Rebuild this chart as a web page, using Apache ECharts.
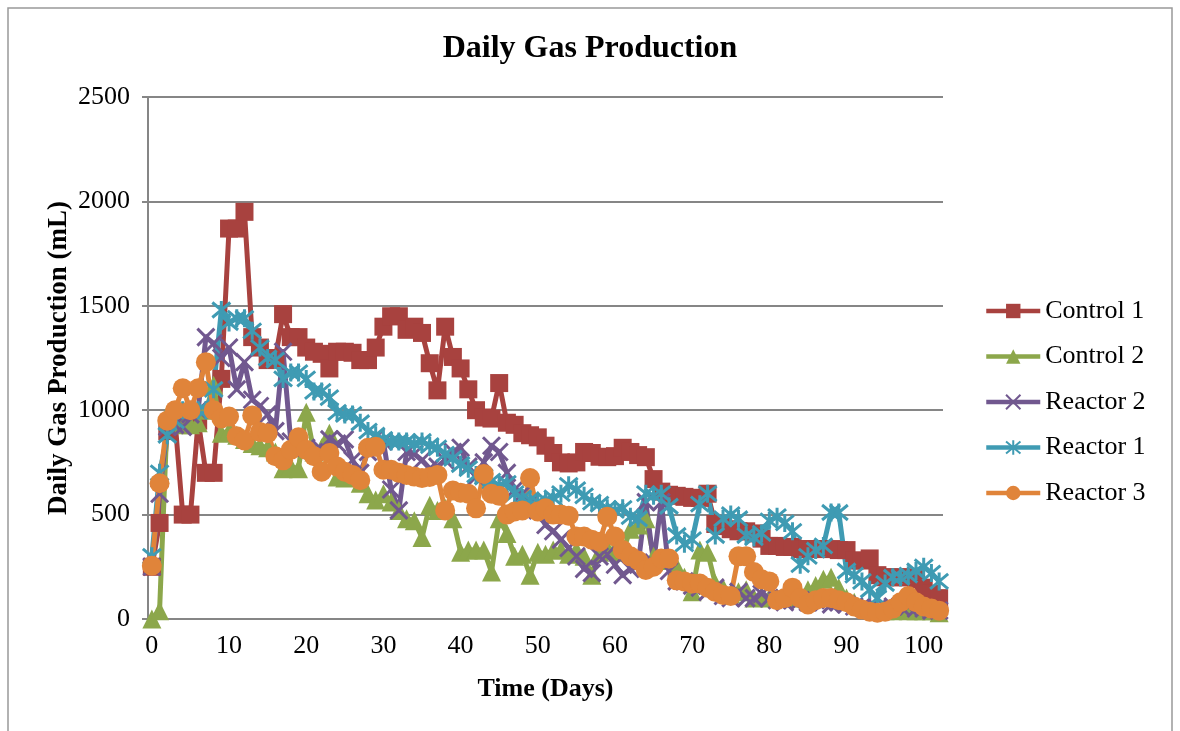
<!DOCTYPE html>
<html>
<head>
<meta charset="utf-8">
<script src="https://cdn.jsdelivr.net/npm/echarts/dist/echarts.min.js"></script>
<style>
html,body{margin:0;padding:0;background:#fff;}
#chart{width:1180px;height:731px;}
</style>
</head>
<body>
<div id="chart"></div>
<script>
const days = [0,1,2,3,4,5,6,7,8,9,10,11,12,13,14,15,16,17,18,19,20,21,22,23,24,25,26,27,28,29,30,31,32,33,34,35,36,37,38,39,40,41,42,43,44,45,46,47,48,49,50,51,52,53,54,55,56,57,58,59,60,61,62,63,64,65,66,67,68,69,70,71,72,73,74,75,76,77,78,79,80,81,82,83,84,85,86,87,88,89,90,91,92,93,94,95,96,97,98,99,100,101,102];

const control1 = [250,460,900,950,500,500,950,700,700,1150,
1870,1870,1950,1350,1300,1240,1250,1460,1350,1350,
1300,1280,1270,1200,1280,1280,1275,1240,1240,1300,
1400,1450,1450,1385,1400,1370,1225,1095,1400,1255,
1200,1100,1000,965,960,1130,940,930,890,880,
870,830,795,750,745,750,800,795,777,775,
780,820,800,785,775,670,610,595,590,585,
580,580,600,455,445,430,420,420,410,385,
350,350,345,345,335,335,335,335,335,330,
330,280,280,290,210,200,200,200,200,190,
150,120,100];

const control2 = [0,40,980,960,930,930,940,1000,1120,890,
900,880,860,840,830,820,800,720,730,720,
990,800,820,890,680,675,690,650,600,570,
600,560,520,480,470,390,545,520,530,480,
320,330,330,330,225,480,410,300,310,210,
320,310,330,330,310,330,300,210,320,340,
330,320,430,450,480,300,280,280,250,200,
130,330,320,170,150,120,130,140,100,110,
100,100,110,100,110,140,160,190,200,150,
100,80,60,50,40,40,40,50,40,40,
40,40,30];

const reactor2 = [250,600,920,930,920,980,1000,1350,1320,1250,
1300,1100,1230,1050,1020,980,900,1280,850,830,
820,800,810,860,840,860,760,700,800,870,
850,620,520,800,790,760,720,730,760,800,
820,730,680,750,830,800,700,620,600,560,
520,450,420,380,340,300,240,220,300,310,
260,210,240,260,560,270,560,230,180,180,
160,150,130,150,110,100,130,100,100,120,
100,90,80,90,90,80,90,80,70,80,
70,60,60,50,50,60,60,60,60,50,
50,40,40];

const reactor1 = [300,700,880,950,1000,1000,1000,1000,1100,1480,
1420,1440,1440,1380,1300,1250,1240,1150,1180,1180,
1150,1090,1090,1060,990,980,980,940,900,880,
860,850,850,850,840,850,830,820,790,770,
740,720,690,680,660,640,650,600,580,570,
560,570,580,600,640,620,590,560,550,530,
520,530,490,480,600,590,600,540,400,360,
380,550,600,400,480,500,480,400,390,410,
470,490,460,420,260,300,330,350,510,510,
230,210,180,140,100,170,200,200,210,230,
250,220,180];

const reactor3 = [255,650,950,1000,1105,1000,1105,1230,1000,960,
970,875,855,975,895,890,780,760,810,870,
810,780,705,795,730,705,690,665,820,825,
715,715,700,690,682,675,680,690,520,615,
605,600,530,695,600,590,500,515,520,675,
515,530,500,500,495,395,395,380,370,490,
395,330,300,280,235,250,290,290,185,180,
170,170,150,130,115,110,300,300,225,190,
180,90,100,150,100,70,90,100,100,90,
80,60,45,35,30,35,50,80,110,80,
60,50,40];

const seriesNames = ['Control 1','Control 2','Reactor 2','Reactor 1','Reactor 3'];
const seriesColors = ['#A8423F','#8CA74B','#71588F','#3F9BB3','#E0843A'];
const yTicks = [0,500,1000,1500,2000,2500];

const FONT = 'Liberation Serif';
const X_SYMBOL = 'path://M0,0L10,10M10,0L0,10';
const STAR_SYMBOL = 'path://M0,0L10,10M10,0L0,10M5,-1L5,11';

const seriesData = [control1, control2, reactor2, reactor1, reactor3];
const symbols = ['rect','triangle',X_SYMBOL,STAR_SYMBOL,'circle'];
const symbolSizes = [18,19,17,18,20];

const chart = echarts.init(document.getElementById('chart'), null, {renderer:'canvas'});

const series = seriesNames.map((name, i) => {
  const isPath = symbols[i].indexOf('path://') === 0;
  return {
    name: name,
    type: 'line',
    data: seriesData[i],
    symbol: symbols[i],
    symbolSize: symbolSizes[i],
    showAllSymbol: true,
    lineStyle: {color: seriesColors[i], width: 5},
    itemStyle: isPath ? {color: seriesColors[i], borderColor: seriesColors[i], borderWidth: 3}
                      : {color: seriesColors[i], borderColor: seriesColors[i], borderWidth: 0},
    emphasis: {disabled: true},
    animation: false
  };
});

chart.setOption({
  backgroundColor: '#ffffff',
  animation: false,
  title: {
    text: 'Daily Gas Production',
    left: 'center',
    top: 28,
    textStyle: {fontFamily: FONT, fontWeight: 'bold', fontSize: 32, color: '#000'}
  },
  graphic: [{
    type: 'rect',
    shape: {x: 8, y: 8, width: 1164, height: 740},
    style: {fill: 'none', stroke: '#999', lineWidth: 1.5},
    silent: true
  }],
  legend: {
    orient: 'vertical',
    left: 984,
    top: 298,
    padding: 0,
    itemWidth: 54,
    itemHeight: 18,
    itemGap: 19.5,
    lineStyle: {width: 4.5},
    textStyle: {fontFamily: FONT, fontSize: 26, color: '#000'},
    data: seriesNames
  },
  grid: {left: 148, right: 237, top: 97, bottom: 112, containLabel: false},
  xAxis: {
    type: 'category',
    data: days,
    boundaryGap: true,
    name: 'Time (Days)',
    nameLocation: 'middle',
    nameGap: 57,
    nameMoveOverlap: false,
    nameTextStyle: {fontFamily: FONT, fontWeight: 'bold', fontSize: 26, color: '#000'},
    axisLine: {lineStyle: {color: '#868686', width: 2}},
    axisTick: {show: false},
    axisLabel: {interval: 9, fontFamily: FONT, fontSize: 26, color: '#000', margin: 14},
    splitLine: {show: false}
  },
  yAxis: {
    type: 'value',
    min: yTicks[0],
    max: yTicks[yTicks.length - 1],
    interval: 500,
    name: 'Daily Gas Production (mL)',
    nameLocation: 'middle',
    nameGap: 75,
    nameMoveOverlap: false,
    nameTextStyle: {fontFamily: FONT, fontWeight: 'bold', fontSize: 27, color: '#000'},
    axisLine: {show: true, lineStyle: {color: '#868686', width: 2}},
    axisTick: {show: true, length: 6, lineStyle: {color: '#868686', width: 2}},
    axisLabel: {fontFamily: FONT, fontSize: 26, color: '#000', margin: 18, formatter: function (v) { return String(v); }},
    splitLine: {lineStyle: {color: '#868686', width: 2}}
  },
  series: series
});
</script>
</body>
</html>
